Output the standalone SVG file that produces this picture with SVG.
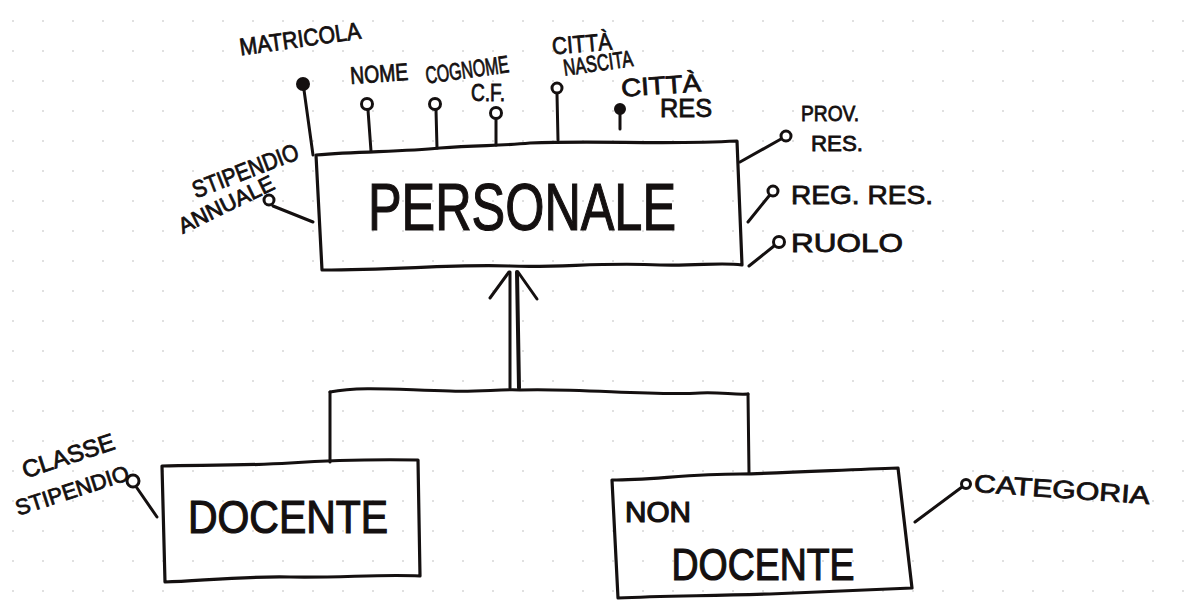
<svg xmlns="http://www.w3.org/2000/svg" width="1186" height="604" viewBox="0 0 1186 604">
<defs>
<pattern id="dots" x="12" y="20" width="30" height="30" patternUnits="userSpaceOnUse">
<circle cx="1" cy="1" r="1" fill="#d6d6d6"/>
</pattern>
</defs>
<style>
.ln{fill:none;stroke:#141010;stroke-width:3;stroke-linecap:round;stroke-linejoin:round}
.box{fill:none;stroke:#141010;stroke-width:3.2;stroke-linejoin:round}
.att{fill:#fff;stroke:#141010;stroke-width:3}
.key{fill:#141010;stroke:#141010;stroke-width:2}
.t{font-family:"Liberation Sans","DejaVu Sans",sans-serif;fill:#141010;stroke:#141010;stroke-width:0.8;text-anchor:middle}
.big{stroke-width:1.2}
</style>
<rect width="1186" height="604" fill="#fff"/>
<rect width="1186" height="604" fill="url(#dots)"/>

<g id="connectors">
<path class="ln" d="M510,388 L510,272"/>
<path class="ln" d="M519,388 L517,272" style="stroke-width:4"/>
<path class="ln" d="M490,298 L509,272"/>
<path class="ln" d="M537,299 L518,272"/>
<path class="ln" d="M330,392 C360,386 400,390 450,391 C480,392 500,389 520,390 C580,388 650,396 700,393 C720,392 735,395 748,394"/>
<path class="ln" d="M330,392 L330,462"/>
<path class="ln" d="M748,394 L749,473"/>
</g>

<g id="personale">
<path class="box" d="M316,155 C360,151 400,152 440,148 C480,145 500,146 530,143 C600,140 660,145 737,141 L742,265 C720,262 700,266 660,265 C600,262 560,268 510,266 C450,264 400,270 322,270 Z"/>
<text class="t big" x="522" y="230" font-size="66" textLength="308" lengthAdjust="spacingAndGlyphs">PERSONALE</text>
</g>

<g id="attr-matricola">
<path class="ln" d="M304,90 L313,155"/>
<circle class="key" cx="303" cy="84" r="6"/>
<text class="t" x="300" y="47" font-size="24" textLength="122" lengthAdjust="spacingAndGlyphs" transform="rotate(-8 300 38)">MATRICOLA</text>
</g>
<g id="attr-nome">
<path class="ln" d="M368,110 L371,151"/>
<circle class="att" cx="367" cy="104" r="5.5"/>
<text class="t" x="379" y="82" font-size="24" textLength="58" lengthAdjust="spacingAndGlyphs" transform="rotate(-4 379 73)">NOME</text>
</g>
<g id="attr-cognome">
<path class="ln" d="M436,110 L437,148"/>
<circle class="att" cx="435" cy="104" r="5.5"/>
<text class="t" x="467" y="78" font-size="24" textLength="84" lengthAdjust="spacingAndGlyphs" transform="rotate(-8 467 69)">COGNOME</text>
</g>
<g id="attr-cf">
<path class="ln" d="M496,119 L496,145"/>
<circle class="att" cx="496" cy="113" r="5.5"/>
<text class="t" x="488" y="101" font-size="24" textLength="34" lengthAdjust="spacingAndGlyphs">C.F.</text>
</g>
<g id="attr-citta-nascita">
<path class="ln" d="M557,94 L558,140"/>
<circle class="att" cx="557" cy="88" r="5"/>
<text class="t" x="582" y="52" font-size="24" textLength="60" lengthAdjust="spacingAndGlyphs" transform="rotate(-5 582 44)">CITTÀ</text>
<text class="t" x="598" y="71" font-size="23" textLength="70" lengthAdjust="spacingAndGlyphs" transform="rotate(-8 598 63)">NASCITA</text>
</g>
<g id="attr-citta-res">
<path class="ln" d="M620,114 L620,129"/>
<circle class="key" cx="620" cy="109" r="5"/>
<text class="t" x="661" y="94" font-size="25" textLength="80" lengthAdjust="spacingAndGlyphs" transform="rotate(-4 661 85)">CITTÀ</text>
<text class="t" x="686" y="117" font-size="25" textLength="52" lengthAdjust="spacingAndGlyphs">RES</text>
</g>
<g id="attr-prov-res">
<path class="ln" d="M740,162 L781,139"/>
<circle class="att" cx="786" cy="136" r="5"/>
<text class="t" x="830" y="121" font-size="22" textLength="58" lengthAdjust="spacingAndGlyphs">PROV.</text>
<text class="t" x="837" y="151" font-size="22" textLength="52" lengthAdjust="spacingAndGlyphs">RES.</text>
</g>
<g id="attr-reg-res">
<path class="ln" d="M748,222 L769,196"/>
<circle class="att" cx="773" cy="191" r="5"/>
<text class="t" x="862" y="204" font-size="26" textLength="142" lengthAdjust="spacingAndGlyphs">REG. RES.</text>
</g>
<g id="attr-ruolo">
<path class="ln" d="M749,266 L774,246"/>
<circle class="att" cx="779" cy="242" r="5.5"/>
<text class="t" x="847" y="252" font-size="25" textLength="112" lengthAdjust="spacingAndGlyphs">RUOLO</text>
</g>
<g id="attr-stipendio-annuale">
<path class="ln" d="M273,206 L313,222"/>
<circle class="att" cx="269" cy="200" r="5"/>
<text class="t" x="245" y="179" font-size="24" textLength="112" lengthAdjust="spacingAndGlyphs" transform="rotate(-21 245 170)">STIPENDIO</text>
<text class="t" x="226" y="212" font-size="22" textLength="104" lengthAdjust="spacingAndGlyphs" transform="rotate(-26 226 204)">ANNUALE</text>
</g>

<g id="docente">
<path class="box" d="M162,466 C200,465 240,466 290,463 C320,461 360,459 418,460 L420,576 C380,574 340,578 290,577 C240,576 200,581 165,582 Z"/>
<text class="t big" x="288" y="533" font-size="46" textLength="200" lengthAdjust="spacingAndGlyphs">DOCENTE</text>
</g>
<g id="attr-classe-stipendio">
<path class="ln" d="M137,488 L157,517"/>
<circle class="att" cx="133" cy="481" r="6"/>
<text class="t" x="68" y="464" font-size="24" textLength="96" lengthAdjust="spacingAndGlyphs" transform="rotate(-18 68 455)">CLASSE</text>
<text class="t" x="72" y="498" font-size="22" textLength="118" lengthAdjust="spacingAndGlyphs" transform="rotate(-18 72 490)">STIPENDIO</text>
</g>

<g id="non-docente">
<path class="box" d="M612,480 C650,480 690,474 740,474 C790,473 840,470 898,468 L912,588 C870,590 820,592 770,594 C700,596 660,596 618,598 Z"/>
<text class="t big" x="658" y="522" font-size="29" textLength="66" lengthAdjust="spacingAndGlyphs">NON</text>
<text class="t big" x="763" y="580" font-size="44" textLength="183" lengthAdjust="spacingAndGlyphs">DOCENTE</text>
</g>
<g id="attr-categoria">
<path class="ln" d="M915,522 L962,487"/>
<circle class="att" cx="966" cy="484" r="4.5"/>
<text class="t" x="1062" y="498" font-size="25" textLength="176" lengthAdjust="spacingAndGlyphs" transform="rotate(4 1062 489)">CATEGORIA</text>
</g>
</svg>
